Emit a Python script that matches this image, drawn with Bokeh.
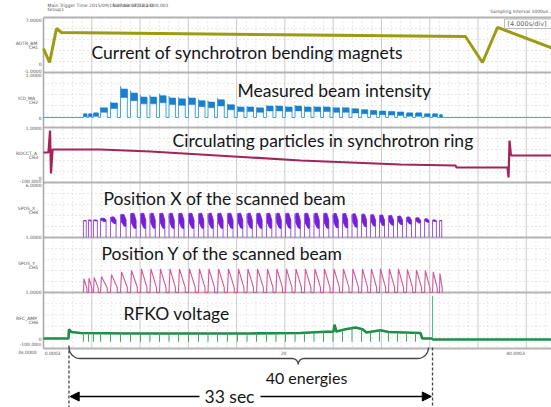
import numpy as np
from bokeh.plotting import figure
from bokeh.models import Range1d, Arrow, NormalHead
from bokeh.core.properties import value
from bokeh.embed import file_html
from bokeh.resources import INLINE

# ---------------- data ----------------
# start time (s) of each of the 40 energy steps (spills)
spill_start = [3.31, 3.73, 4.14, 4.72, 5.55, 6.38, 7.21, 8.04, 8.82, 9.61,
               10.40, 11.18, 12.01, 12.84, 13.63, 14.42, 15.24, 16.07, 16.86, 17.65,
               18.48, 19.26, 20.05, 20.84, 21.62, 22.41, 23.20, 23.99, 24.77, 25.56,
               26.35, 27.09, 27.84, 28.58, 29.33, 30.07, 30.82, 31.57, 32.23, 32.81]
last_spill_next = 33.14

# measured beam intensity per energy (arb.)
beam_intensity = [0.07, 0.07, 0.09, 0.20, 0.31, 0.62, 0.53, 0.44, 0.44, 0.47,
                  0.42, 0.40, 0.42, 0.36, 0.33, 0.38, 0.27, 0.22, 0.22, 0.20,
                  0.24, 0.24, 0.22, 0.24, 0.22, 0.22, 0.22, 0.20, 0.20, 0.18,
                  0.16, 0.14, 0.13, 0.12, 0.11, 0.09, 0.09, 0.07, 0.07, 0.05]

# scanned position X: upper / lower edge of the scan band per energy
pos_x_top = [-0.38, -0.36, -0.36, -0.30, -0.25, -0.16, -0.12, -0.12, -0.12, -0.12,
             -0.12, -0.12, -0.12, -0.12, -0.12, -0.12, -0.12, -0.12, -0.12, -0.12,
             -0.12, -0.12, -0.12, -0.12, -0.12, -0.12, -0.12, -0.13, -0.13, -0.14,
             -0.15, -0.17, -0.18, -0.20, -0.22, -0.25, -0.28, -0.32, -0.36, -0.38]
pos_x_bottom = [-0.40, -0.40, -0.40, -0.42, -0.50, -0.60, -0.68, -0.68, -0.68, -0.68,
                -0.68, -0.68, -0.68, -0.68, -0.68, -0.68, -0.68, -0.68, -0.68, -0.68,
                -0.68, -0.68, -0.68, -0.68, -0.68, -0.68, -0.68, -0.66, -0.66, -0.64,
                -0.62, -0.60, -0.58, -0.56, -0.54, -0.52, -0.48, -0.45, -0.42, -0.40]

# scanned position Y: sawtooth peak / end level per energy
pos_y_peak = [-0.50, -0.48, -0.45, -0.42, -0.35, -0.25, -0.20, -0.14, -0.14, -0.14,
              -0.14, -0.14, -0.14, -0.14, -0.14, -0.14, -0.14, -0.14, -0.14, -0.14,
              -0.14, -0.14, -0.14, -0.14, -0.14, -0.14, -0.14, -0.14, -0.14, -0.14,
              -0.14, -0.14, -0.14, -0.14, -0.14, -0.16, -0.18, -0.20, -0.25, -0.30]
pos_y_low = [-0.85, -0.85, -0.84, -0.84, -0.83, -0.82, -0.82, -0.82, -0.82, -0.82,
             -0.82, -0.82, -0.82, -0.82, -0.82, -0.82, -0.82, -0.82, -0.82, -0.82,
             -0.82, -0.82, -0.82, -0.82, -0.82, -0.82, -0.82, -0.82, -0.82, -0.82,
             -0.82, -0.82, -0.82, -0.82, -0.82, -0.83, -0.84, -0.84, -0.85, -0.85]

# bending magnet current (A, arb.)
bm_t = [0.0, 0.50, 1.08, 1.49, 34.96, 36.37, 37.61, 42.08]
bm_current = [2.49, 0.45, 5.40, 4.82, 4.24, 0.45, 5.55, 2.60]

# circulating particles in the ring (arb.)
ring_t = [0.0, 0.41, 0.54, 0.62, 0.75, 4.72, 8.86, 13.0, 17.15, 21.29, 25.43, 29.58,
          34.13, 34.22, 38.44, 38.53, 38.61, 38.73, 42.08]
ring_particles = [0.50, 0.50, 0.94, 0.08, 0.56, 0.56, 0.52, 0.46, 0.40, 0.34, 0.30, 0.26,
                  0.24, 0.20, 0.20, 0.00, 0.74, 0.44, 0.44]

# RFKO voltage envelope (arb.)
rfko_t = [0.0, 2.07, 2.11, 2.32, 3.07, 7.21, 17.15, 21.29, 22.95, 24.03, 24.11, 24.27,
          25.02, 25.85, 26.43, 26.76, 27.92, 28.58, 31.23, 31.38, 32.19, 32.28, 42.08]
rfko_v = [0.0, 0.0, 0.20, 0.14, 0.12, 0.11, 0.11, 0.12, 0.14, 0.15, 0.30, 0.15,
          0.20, 0.24, 0.20, 0.13, 0.18, 0.14, 0.12, 0.0, 0.0, -0.02, -0.02]
rfko_spike_t = 32.23
rfko_spike_v = 0.93

window_t = [2.11, 32.23]          # 33 sec window
brace_t = [2.12, 21.1, 31.9]      # brace left end, tip, right end

panel_titles = ["Current of synchrotron bending magnets", "Measured beam intensity",
                "Circulating particles in synchrotron ring", "Position X of the scanned beam",
                "Position Y of the scanned beam", "RFKO voltage"]
channel_names = ["ADTR_BM", "ICD_MA", "RDCCT_A", "SPOS_X", "SPOS_Y", "RFC_AMP"]
channel_ids = ["CH1", "CH2", "CH3", "CH4", "CH5", "CH6"]
panel_ranges = [(-1.0, 7.0), (-0.222, 1.0), (-0.1, 1.0), (-1.0, 1.0), (-1.0, 1.0), (-0.217, 1.0)]
time_tick_labels = ["0s.0000", "0.0003", "20", "40.0003"]

# ---------------- layout (pixels) ----------------
W, H = 551, 407
TOP, BOTTOM = 0, 407
FRAME_LEFT = 43
PX_PER_S = 12.07
EDGES = [17, 72, 127, 182, 237, 292, 348]


def tx(px):
    return (px - FRAME_LEFT) / PX_PER_S


t_min, t_max = tx(0), tx(W)

p = figure(width=W, height=H, output_backend="svg", toolbar_location=None,
           x_range=Range1d(t_min, t_max), y_range=Range1d(BOTTOM, TOP),
           x_axis_location=None, y_axis_location=None, min_border=0,
           background_fill_color="white", border_fill_color="white")
p.grid.visible = False
p.outline_line_color = None

for k, (lo, hi) in enumerate(panel_ranges):
    top, bot = EDGES[k], EDGES[k + 1]
    s = (hi - lo) / (bot - top)
    p.extra_y_ranges["p%d" % (k + 1)] = Range1d(lo - (BOTTOM - bot) * s, hi + (top - TOP) * s)

# ---------------- grid ----------------
minor_t = [m * 0.8 for m in range(0, 56) if (m * 0.8) % 4 > 0.01 and m * 0.8 < t_max]
p.segment(x0=minor_t, y0=[EDGES[0]] * len(minor_t), x1=minor_t, y1=[EDGES[-1]] * len(minor_t),
          line_color="#d2d2d2", line_width=1, line_dash="1 3")
hy = []
for k in range(6):
    for f in (0.2, 0.4, 0.6, 0.8):
        hy.append(EDGES[k] + f * (EDGES[k + 1] - EDGES[k]))
p.segment(x0=[0] * len(hy), y0=hy, x1=[t_max] * len(hy), y1=hy,
          line_color="#d2d2d2", line_width=1, line_dash="1 3")
major_t = list(range(4, 44, 4))
p.segment(x0=major_t, y0=[EDGES[0]] * len(major_t), x1=major_t, y1=[EDGES[-1]] * len(major_t),
          line_color="#cccccc", line_width=1)
p.segment(x0=[0] * len(EDGES), y0=EDGES, x1=[t_max] * len(EDGES), y1=EDGES,
          line_color="#b4b4b4", line_width=1.8)
p.segment(x0=[0], y0=[EDGES[0]], x1=[0], y1=[EDGES[-1]], line_color="#a8a8a8", line_width=1.5)

# spill end times
n = len(spill_start)
nxt = spill_start[1:] + [last_spill_next]
spill_end = [s + 0.68 * (q - s) for s, q in zip(spill_start, nxt)]
dur = [e - s for s, e in zip(spill_start, spill_end)]

# ---------------- panel 1: bending magnet current ----------------
p.line(bm_t, bm_current, y_range_name="p1", line_color="#9c9c14", line_width=3)

# ---------------- panel 2: beam intensity ----------------
bx, by = [0.0], [0.0]
for s, e, lv in zip(spill_start, spill_end, beam_intensity):
    bx += [s, s, s + 0.04, e, e]
    by += [0.0, lv * 1.12, lv, lv, 0.0]
bx.append(t_max)
by.append(0.0)
p.line(bx, by, y_range_name="p2", line_color="#4aa3e4", line_width=1)
band_top = [lv + 0.015 for lv in beam_intensity]
band_bot = [lv - (0.04 + 0.22 * lv) for lv in beam_intensity]
p.quad(left=[s + 0.04 for s in spill_start], right=spill_end, top=band_top, bottom=band_bot,
       y_range_name="p2", fill_color="#1c7fcc", line_color="#1c7fcc", line_width=0.5)

# ---------------- panel 3: circulating particles ----------------
p.line(ring_t, ring_particles, y_range_name="p3", line_color="#a3245a", line_width=2.2)

# ---------------- panel 4: position X ----------------
xs_blob, ys_blob = [], []
for s, d, tp, bt in zip(spill_start, dur, pos_x_top, pos_x_bottom):
    h = tp - bt
    xs_blob.append([s, s + 0.15 * d, s + 0.5 * d, s + 0.82 * d, s + 0.82 * d, s + 0.5 * d, s + 0.1 * d])
    ys_blob.append([tp - 0.2 * h, tp, tp, tp - 0.45 * h, bt, bt + 0.05 * h, tp - 0.6 * h])
p.patches(xs_blob, ys_blob, y_range_name="p4", fill_color="#7420d6", line_color="#7420d6", line_width=0.8)
p.segment(x0=spill_start, y0=[-1.0] * n, x1=spill_start, y1=pos_x_top,
          y_range_name="p4", line_color="#9a5ae6", line_width=1)
x_end = [s + 0.82 * d for s, d in zip(spill_start, dur)]
p.segment(x0=x_end, y0=[-1.0] * n, x1=x_end, y1=pos_x_bottom,
          y_range_name="p4", line_color="#9a5ae6", line_width=1)

# ---------------- panel 5: position Y ----------------
yx, yy = [spill_start[0]], [-1.0]
for s, e, pk, lw in zip(spill_start, spill_end, pos_y_peak, pos_y_low):
    yx += [s, s + 0.15 * (e - s), e, e]
    yy += [-1.0, pk, lw, -1.0]
p.line(yx, yy, y_range_name="p5", line_color="#d2579c", line_width=1.1)

# ---------------- panel 6: RFKO voltage ----------------
p.line(rfko_t, rfko_v, y_range_name="p6", line_color="#1f8c48", line_width=2.6)
dip_t = [s for s in spill_start if window_t[0] < s < rfko_t[18]]
dip_top = list(np.interp(dip_t, rfko_t, rfko_v))
p.segment(x0=dip_t, y0=dip_top, x1=dip_t, y1=[-0.07] * len(dip_t),
          y_range_name="p6", line_color="#3aa865", line_width=1)
p.segment(x0=[rfko_spike_t], y0=[0.0], x1=[rfko_spike_t], y1=[rfko_spike_v],
          y_range_name="p6", line_color="#4cc07a", line_width=1)

# ---------------- panel titles ----------------
title_pos = [(91, 52), (237, 90), (172, 140), (103, 198), (101, 253), (123, 313)]
p.text(x=[tx(a) for a, b in title_pos], y=[b for a, b in title_pos], text=panel_titles,
       text_font=value("Lato"), text_font_size="17.5px", text_color="#151515",
       text_align="left", text_baseline="middle")

# ---------------- small texts ----------------
small = dict(text_font=value("DejaVu Sans"), text_font_size="4.5px", text_color="#555555",
             text_baseline="middle")
mid_y = [(EDGES[k] + EDGES[k + 1]) / 2 for k in range(6)]
p.text(x=[tx(26)] * 6, y=[m - 2 for m in mid_y], text=channel_names, text_align="center", **small)
p.text(x=[tx(33)] * 6, y=[m + 2 for m in mid_y], text=channel_ids, text_align="center", **small)
tick_txt = ["7.0000", "0", "-1.0000", "1.0000", "0", "1.0000", "0", "-100.00m",
            "6.0000", "1.0000", "1.0000", "0", "-100.00m"]
tick_y = [19, 63, 70, 74, 117, 127, 177, 181, 184, 236, 291, 338, 344]
p.text(x=[tx(41)] * len(tick_txt), y=tick_y, text=tick_txt, text_align="right", **small)
p.text(x=[tx(27), tx(52), tx(283), tx(515)], y=[352] * 4, text=time_tick_labels,
       text_align="center", **small)
p.text(x=[tx(47), tx(47), tx(112)], y=[4.5, 9, 4.5],
       text=["Main Trigger Time 2015/09/15 07:03:03(17:23)", "Group1", "Number of Data 000,001"],
       text_align="left", **small)
p.text(x=[tx(549)], y=[11], text=["Sampling Interval  1000us"], text_align="right", **small)
p.quad(left=[tx(504)], right=[tx(551)], top=[18.5], bottom=[28], fill_color="white",
       line_color="#bbbbbb", line_width=1)
p.text(x=[tx(507)], y=[23.5], text=["[4.000s/div]"], text_align="left",
       text_font=value("DejaVu Sans"), text_font_size="6.5px", text_color="#666666",
       text_baseline="middle")

# ---------------- annotations below ----------------
p.segment(x0=window_t, y0=[345, 347], x1=window_t, y1=[BOTTOM, BOTTOM],
          line_color="#444444", line_width=1.3, line_dash="3 2")

L = FRAME_LEFT + brace_t[0] * PX_PER_S
T = FRAME_LEFT + brace_t[1] * PX_PER_S
R = FRAME_LEFT + brace_t[2] * PX_PER_S
ym, r, rt = 358.0, 11.0, 6.0
th = np.linspace(np.pi, np.pi / 2, 12)
px_ = list(L + r + r * np.cos(th)); py_ = list(ym - r + r * np.sin(th))
th = np.linspace(-np.pi / 2, 0, 8)
px_ += list(T - rt + rt * np.cos(th)); py_ += list(ym + rt + rt * np.sin(th))
th = np.linspace(np.pi, 1.5 * np.pi, 8)
px_ += list(T + rt + rt * np.cos(th)); py_ += list(ym + rt + rt * np.sin(th))
th = np.linspace(np.pi / 2, 0, 12)
px_ += list(R - r + r * np.cos(th)); py_ += list(ym - r + r * np.sin(th))
p.line([tx(v) for v in px_], py_, line_color="#444444", line_width=1.3)

p.text(x=[tx(306)], y=[377], text=["40 energies"], text_font=value("Lato"),
       text_font_size="16px", text_color="#151515", text_align="center", text_baseline="middle")
p.text(x=[tx(229)], y=[396], text=["33 sec"], text_font=value("Lato"),
       text_font_size="17.5px", text_color="#151515", text_align="center", text_baseline="middle")
head = dict(size=9, fill_color="black", line_color="black")
p.add_layout(Arrow(end=NormalHead(**head), x_start=tx(199), y_start=396, x_end=window_t[0] + 0.1,
                   y_end=396, line_color="black", line_width=1.3))
p.add_layout(Arrow(end=NormalHead(**head), x_start=tx(260), y_start=396, x_end=window_t[1] - 0.1,
                   y_end=396, line_color="black", line_width=1.3))

open("out.html", "w").write(file_html(p, INLINE))
